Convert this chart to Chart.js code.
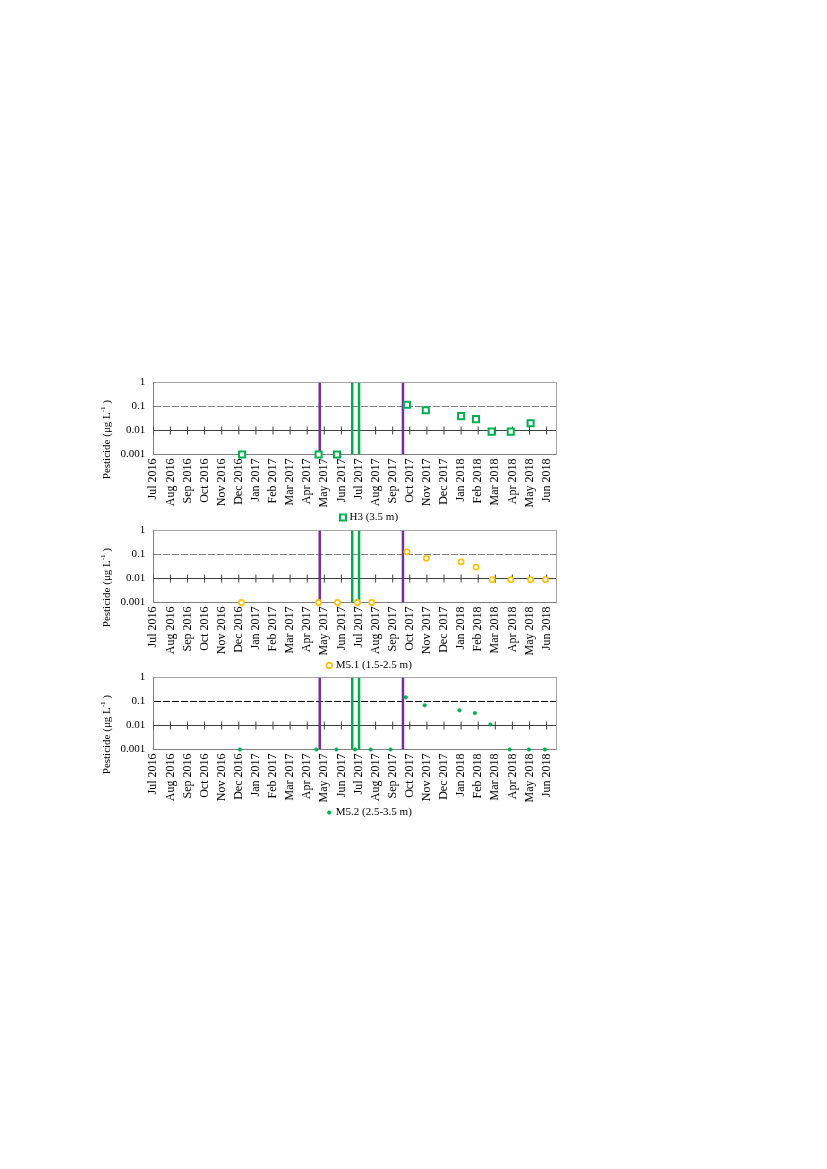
<!DOCTYPE html>
<html>
<head>
<meta charset="utf-8">
<title>Pesticide</title>
<script src="https://cdn.jsdelivr.net/npm/chart.js@4.4.1/dist/chart.umd.min.js"></script>
<style>
  body { margin: 0; background: #fff; }
  canvas { position: absolute; left: 95px; }
</style>
</head>
<body>
<canvas id="chartH3" width="550" height="165" style="top:368px"></canvas>
<canvas id="chartM51" width="550" height="165" style="top:516px"></canvas>
<canvas id="chartM52" width="550" height="165" style="top:663px"></canvas>
<script>
// month ticks along the x axis (Jul 2016 .. Jun 2018)
const monthLabels = ['Jul 2016', 'Aug 2016', 'Sep 2016', 'Oct 2016', 'Nov 2016', 'Dec 2016',
    'Jan 2017', 'Feb 2017', 'Mar 2017', 'Apr 2017', 'May 2017', 'Jun 2017',
    'Jul 2017', 'Aug 2017', 'Sep 2017', 'Oct 2017', 'Nov 2017', 'Dec 2017',
    'Jan 2018', 'Feb 2018', 'Mar 2018', 'Apr 2018', 'May 2018', 'Jun 2018'];
const yTicks = [0.001, 0.01, 0.1, 1];

// vertical marker lines
const purpleLineDates = ['2017-04-23', '2017-09-19'];
const greenLineDates = ['2017-06-20', '2017-07-02'];

// samples
const h3Dates = ['2016-12-07', '2017-04-21', '2017-05-24', '2017-09-26', '2017-10-30',
    '2018-01-01', '2018-01-28', '2018-02-23', '2018-03-29', '2018-05-03'];
const h3Values = [0.001, 0.001, 0.001, 0.12, 0.07, 0.04, 0.03, 0.009, 0.009, 0.02];

const m51Dates = ['2016-12-06', '2017-04-21', '2017-05-25', '2017-06-29', '2017-07-25',
    '2017-09-26', '2017-10-31', '2018-01-01', '2018-01-28', '2018-02-24', '2018-03-29',
    '2018-05-03', '2018-05-30'];
const m51Values = [0.001, 0.001, 0.001, 0.001, 0.001, 0.13, 0.07, 0.05, 0.03, 0.009, 0.009, 0.009, 0.009];

const m52Dates = ['2016-12-03', '2017-04-17', '2017-05-23', '2017-06-25', '2017-07-23',
    '2017-08-28', '2017-09-24', '2017-10-28', '2017-12-29', '2018-01-26', '2018-02-21',
    '2018-03-27', '2018-04-30', '2018-05-29'];
const m52Values = [0.001, 0.001, 0.001, 0.001, 0.001, 0.001, 0.15, 0.07, 0.043, 0.033, 0.011, 0.001, 0.001, 0.001];

const xMax = 23.55;

Chart.defaults.font.family = "'Liberation Serif', 'Times New Roman', serif";
Chart.defaults.font.size = 11;
Chart.defaults.color = '#000';

// months since 1 Jul 2016
function monthPos(d) {
    const [y, m, day] = d.split('-').map(Number);
    const dim = new Date(y, m, 0).getDate();
    return (y - 2016) * 12 + (m - 7) + (day - 1) / dim;
}

function vLine(date, color) {
    const x = monthPos(date);
    return {
        type: 'line',
        data: [{x: x, y: 0.001}, {x: x, y: 1}],
        borderColor: color,
        borderWidth: 2.5,
        pointRadius: 0,
        showLine: true
    };
}

const yTitle = {
    id: 'yTitle',
    afterDraw(chart) {
        const ctx = chart.ctx;
        const big = "11px 'Liberation Serif', serif";
        const small = "7px 'Liberation Serif', serif";
        const parts = [['Pesticide (\u03bcg L', big, 0], ['-1', small, -4], [' )', big, 0]];
        ctx.save();
        ctx.translate(12, chart.chartArea.top + 57);
        ctx.rotate(-Math.PI / 2);
        ctx.fillStyle = '#000';
        ctx.textBaseline = 'middle';
        let total = 0;
        parts.forEach(p => { ctx.font = p[1]; total += ctx.measureText(p[0]).width; });
        let x = -total / 2;
        parts.forEach(p => {
            ctx.font = p[1];
            ctx.fillText(p[0], x, p[2]);
            x += ctx.measureText(p[0]).width;
        });
        ctx.restore();
    }
};

function makeChart(id, label, dates, values, style, dashColor) {
    const sample = Object.assign({
        label: label,
        data: dates.map((d, i) => ({x: monthPos(d), y: values[i]})),
        clip: false
    }, style.point);

    const tickMarks = {
        data: monthLabels.map((_, i) => ({x: i, y: 0.01})),
        pointStyle: 'line',
        rotation: 90,
        pointRadius: 4,
        pointBorderColor: '#404040',
        pointBorderWidth: 1
    };

    const datasets = [sample]
        .concat(purpleLineDates.map(d => vLine(d, '#7030A0')))
        .concat(greenLineDates.map(d => vLine(d, '#00B050')))
        .concat([tickMarks]);

    return new Chart(document.getElementById(id), {
        type: 'scatter',
        data: { datasets: datasets },
        options: {
            responsive: false,
            animation: false,
            layout: { padding: 0 },
            plugins: {
                tooltip: { enabled: false },
                legend: {
                    position: 'bottom',
                    labels: {
                        usePointStyle: true,
                        boxWidth: 2,
                        boxHeight: style.legendBox,
                        padding: 4,
                        filter: item => item.datasetIndex === 0
                    }
                }
            },
            scales: {
                x: {
                    type: 'linear',
                    min: 0,
                    max: xMax,
                    afterBuildTicks: axis => { axis.ticks = monthLabels.map((_, i) => ({value: i})); },
                    afterFit: axis => { axis.height = 53.5; },
                    ticks: {
                        autoSkip: false,
                        maxRotation: 90,
                        minRotation: 90,
                        padding: 4,
                        font: { size: 12 },
                        callback: v => monthLabels[Math.round(v)]
                    },
                    grid: { display: false, drawTicks: false },
                    border: { color: '#808080' }
                },
                y: {
                    type: 'logarithmic',
                    min: 0.001,
                    max: 1,
                    afterBuildTicks: axis => { axis.ticks = yTicks.map(v => ({value: v})); },
                    afterFit: axis => { axis.width = 58.3; },
                    ticks: { padding: 8, callback: v => String(v) },
                    grid: {
                        drawTicks: false,
                        color: c => {
                            if (!c.tick) return '#a6a6a6';
                            if (c.tick.value === 0.001) return 'rgba(0,0,0,0)';
                            if (c.tick.value === 0.01) return '#404040';
                            if (c.tick.value === 0.1) return dashColor;
                            return '#a6a6a6';
                        }
                    },
                    border: {
                        color: '#808080',
                        dash: c => (c.tick && c.tick.value === 0.1) ? [7, 2] : []
                    }
                },
                y2: {
                    type: 'linear',
                    position: 'right',
                    display: true,
                    afterFit: axis => { axis.width = 89; },
                    ticks: { display: false },
                    grid: { display: false },
                    border: { color: '#a6a6a6' }
                }
            }
        },
        plugins: [yTitle]
    });
}

makeChart('chartH3', 'H3 (3.5 m)', h3Dates, h3Values, {
    legendBox: 6,
    point: {
        pointStyle: 'rect',
        pointRadius: 4.3,
        pointBorderWidth: 2,
        pointBorderColor: '#00B050',
        pointBackgroundColor: '#fff',
        borderColor: '#00B050',
        backgroundColor: '#fff'
    }
}, '#808080');

makeChart('chartM51', 'M5.1 (1.5-2.5 m)', m51Dates, m51Values, {
    legendBox: 4,
    point: {
        pointStyle: 'circle',
        pointRadius: 2.6,
        pointBorderWidth: 1.6,
        pointBorderColor: '#FFC000',
        pointBackgroundColor: '#fff',
        borderColor: '#FFC000',
        backgroundColor: '#fff'
    }
}, '#808080');

makeChart('chartM52', 'M5.2 (2.5-3.5 m)', m52Dates, m52Values, {
    legendBox: 2.6,
    point: {
        pointStyle: 'circle',
        pointRadius: 1.8,
        pointBorderWidth: 0.5,
        pointBorderColor: '#00B050',
        pointBackgroundColor: '#00B050',
        borderColor: '#00B050',
        backgroundColor: '#00B050'
    }
}, '#000');
</script>
</body>
</html>
